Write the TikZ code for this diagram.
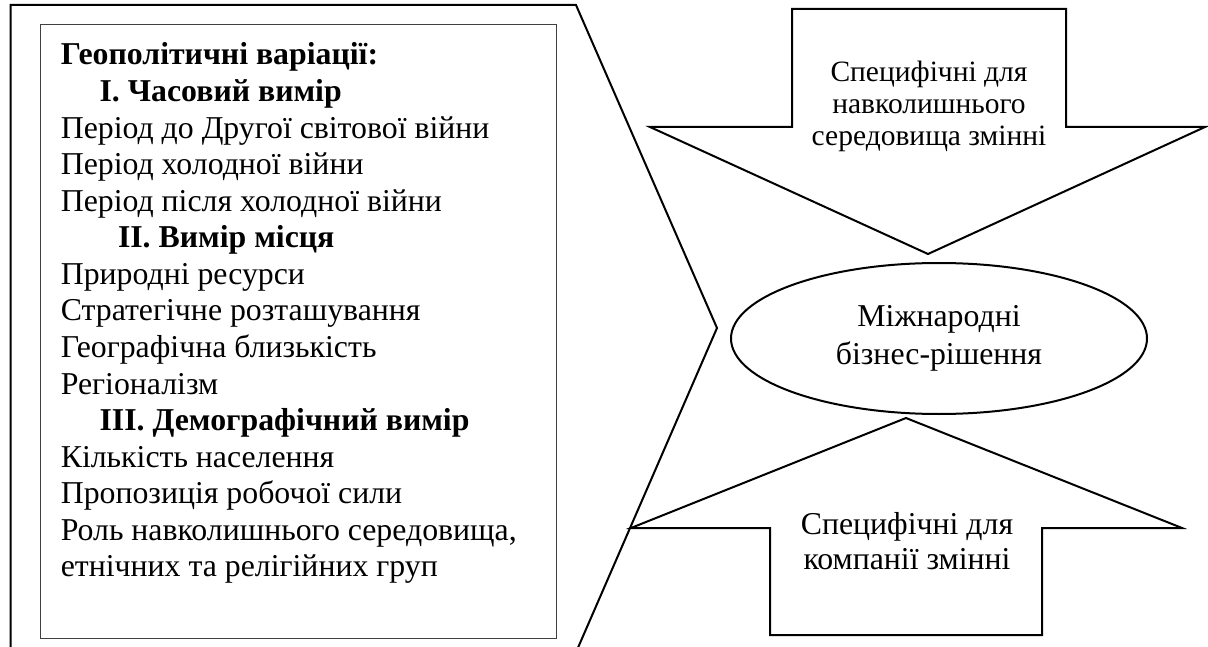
\documentclass[tikz,border=0pt]{standalone}
\usepackage{fontspec}
\setmainfont{Liberation Serif}
\usetikzlibrary{calc}
\usetikzlibrary{positioning}
\usetikzlibrary{shapes.geometric}

\tikzset{
  frame/.style={line width=2pt, line join=miter},
  itemline/.style={anchor=base west, inner sep=0pt, font=\fontsize{31.8}{36.6}\selectfont},
}

\begin{document}
\begin{tikzpicture}[x=1pt, y=-1pt]
  \useasboundingbox (0,0) rectangle (1208,647);

  % left block
  \draw [frame] (10.7,650) -- (10.7,5) -- (576,5) -- (717,328) -- (577,650);
  \node [draw=black!75, line width=1.3pt, anchor=north west, inner sep=0pt,
         minimum width=516pt, minimum height=614pt] (geobox) at (39.7,24) {};
  \foreach [count=\i from 0] \t in {
      \textbf{Геополітичні варіації:},
      \hspace*{38.8pt}\textbf{I. Часовий вимір},
      Період до Другої світової війни,
      Період холодної війни,
      Період після холодної війни,
      \hspace*{57.2pt}\textbf{II. Вимір місця},
      Природні ресурси,
      Стратегічне розташування,
      Географічна близькість,
      Регіоналізм,
      \hspace*{38.8pt}\textbf{III. Демографічний вимір},
      Кількість населення,
      Пропозиція робочої сили,
      {Роль навколишнього середовища,},
      етнічних та релігійних груп}
    \node [itemline] (geo\i) at (60.6,{65+36.57*\i}) {\t};

  % arrows
  \draw [frame] (792,9) -- (1066,9) -- (1066,127) -- (1205,127) -- (928,254)
    -- (650,127) -- (792,127) -- cycle;
  \draw [frame] (770,635) -- (1042,635) -- (1042,528) -- (1182,528) -- (906,418)
    -- (631,528) -- (770,528) -- cycle;

  \node [align=center, inner sep=0pt, font=\fontsize{29.5}{32}\selectfont]
    (envvars) at (929,106) {Специфічні для\\навколишнього\\середовища змінні};
  \node [align=center, inner sep=0pt, font=\fontsize{31.8}{35}\selectfont]
    (firmvars) at (907,541.5) {Специфічні для\\компанії змінні};

  \node [draw, ellipse, line width=2pt, inner sep=0pt, minimum width=416pt,
         minimum height=151pt, align=center, font=\fontsize{31.8}{38}\selectfont]
    (decision) at (939,338.5) {Міжнародні\\бізнес-рішення};
\end{tikzpicture}
\end{document}
